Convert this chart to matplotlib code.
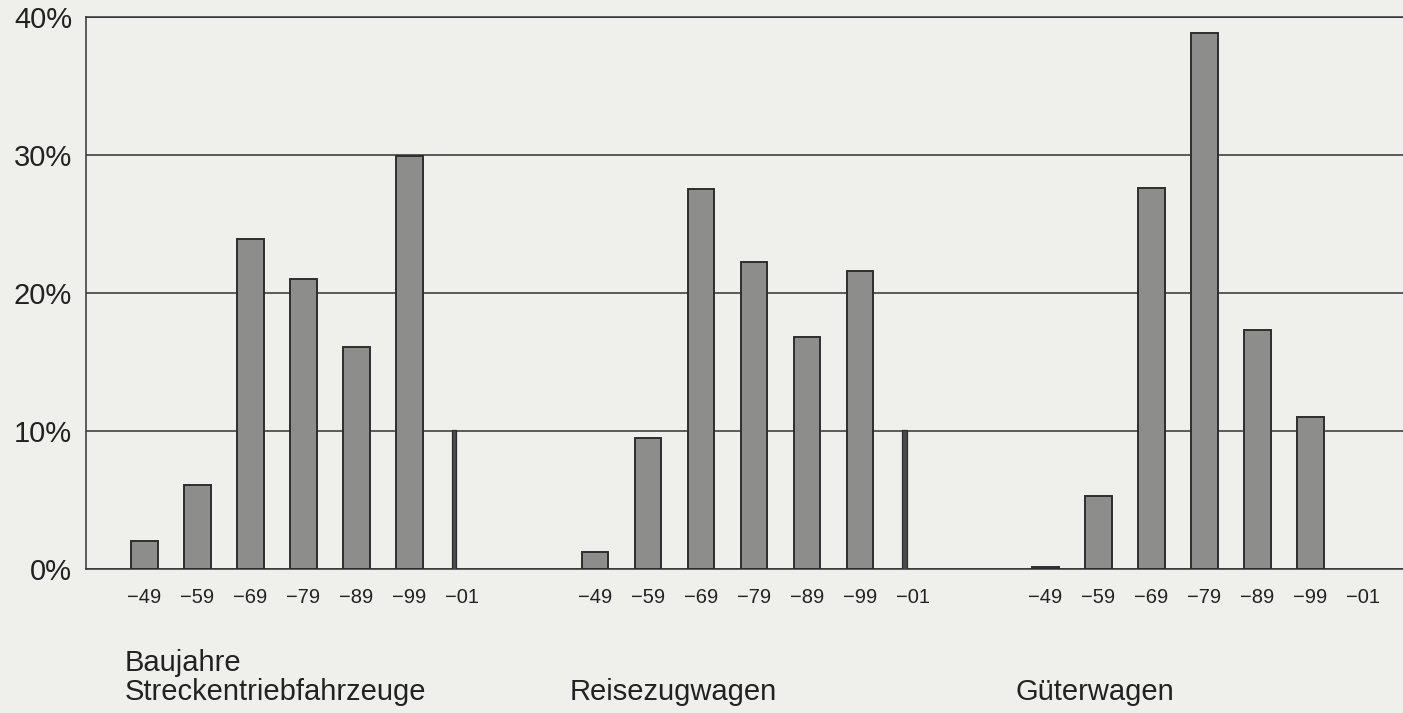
import matplotlib.pyplot as plt
import numpy as np

plt.rcParams["font.family"] = ["Liberation Sans", "DejaVu Sans"]

# Anteile je Baujahresklasse (in %)
baujahre = ["\u221249", "\u221259", "\u221269", "\u221279", "\u221289", "\u221299", "\u221201"]
gruppen = ["Baujahre\nStreckentriebfahrzeuge", "Reisezugwagen", "Güterwagen"]
streckentriebfahrzeuge = [2.0, 6.1, 23.9, 21.0, 16.1, 29.9, 10.1]
reisezugwagen = [1.2, 9.5, 27.5, 22.2, 16.8, 21.6, 10.1]
gueterwagen = [0.15, 5.3, 27.6, 38.8, 17.3, 11.0, 0.0]
y_ticks = [0, 10, 20, 30, 40]

werte = [streckentriebfahrzeuge, reisezugwagen, gueterwagen]

bg = "#efefec"
fig = plt.figure(figsize=(14.03, 7.13), dpi=100, facecolor=bg)
ax = fig.add_axes([0.0613, 0.2020, 0.9387, 0.7746], facecolor=bg)

group_gap = 8.5
xpos = []
xlabels = []
for g, vals in enumerate(werte):
    for i, v in enumerate(vals):
        x = g * group_gap + i
        xpos.append(x)
        xlabels.append(baujahre[i])
        if i == len(vals) - 1:
            # letzte Klasse (2000-01) nur als schmaler Balken
            ax.bar(x - 0.2, v, width=0.09, align="edge", color="#4a4a4a",
                   edgecolor="#2e2e2e", linewidth=0.9, zorder=3)
        else:
            ax.bar(x, v, width=0.5, color="#8d8d8b", edgecolor="#2e2e2e",
                   linewidth=1.4, zorder=3)

ax.set_xlim(-1.1, 23.75)
ax.set_ylim(0, 40)
ax.set_yticks(y_ticks)
ax.set_yticklabels([f"{t}%" for t in y_ticks], fontsize=21, color="#222222")
ax.set_xticks(xpos)
ax.set_xticklabels(xlabels, fontsize=14.5, color="#222222")
ax.tick_params(axis="both", length=0)
ax.tick_params(axis="y", pad=10)
ax.tick_params(axis="x", pad=14)

ax.yaxis.grid(True, color="#333333", linewidth=1.1, zorder=1)
ax.set_axisbelow(True)
ax.spines["right"].set_visible(False)
for side in ["left", "bottom", "top"]:
    ax.spines[side].set_color("#333333")
    ax.spines[side].set_linewidth(1.1)

# Gruppenbeschriftungen unter den Achsen
label_x = [125, 570, 1015]
for lx, txt in zip(label_x, gruppen):
    fig.text(lx / 1403, 1 - 700 / 713, txt, fontsize=21, color="#222222",
             ha="left", va="baseline", linespacing=1.05)

fig.savefig("out.png", dpi=100, facecolor=bg)
